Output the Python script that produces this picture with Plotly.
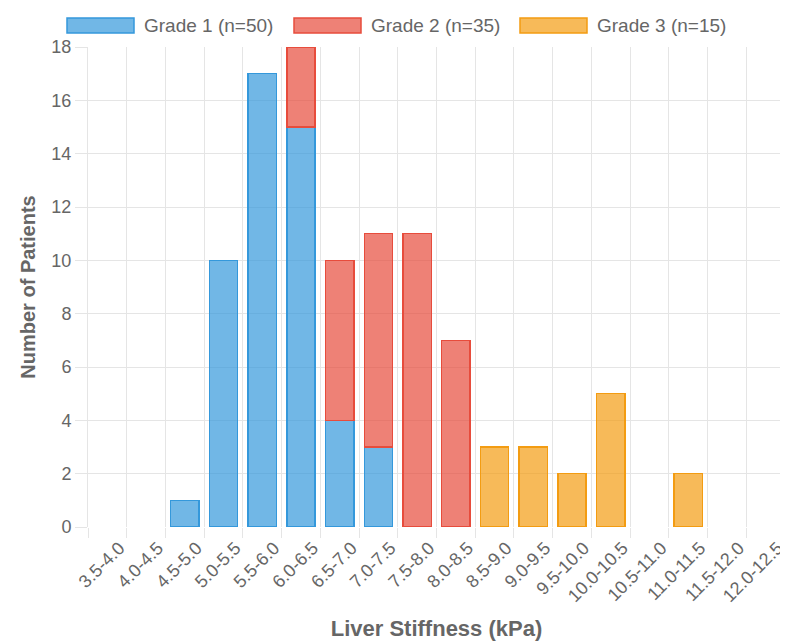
import plotly.graph_objects as go

categories = ["3.5-4.0","4.0-4.5","4.5-5.0","5.0-5.5","5.5-6.0","6.0-6.5","6.5-7.0","7.0-7.5",
              "7.5-8.0","8.0-8.5","8.5-9.0","9.0-9.5","9.5-10.0","10.0-10.5","10.5-11.0",
              "11.0-11.5","11.5-12.0","12.0-12.5"]
grade1 = [0,0,1,10,17,15,4,3,0,0,0,0,0,0,0,0,0,0]
grade2 = [0,0,0,0,0,3,6,8,11,7,0,0,0,0,0,0,0,0]
grade3 = [0,0,0,0,0,0,0,0,0,0,3,3,2,5,0,2,0,0]
names = ["Grade 1 (n=50)", "Grade 2 (n=35)", "Grade 3 (n=15)"]
fills = ["rgba(52,152,219,0.7)", "rgba(231,76,60,0.7)", "rgba(243,156,18,0.7)"]
lines = ["#3498db", "#e74c3c", "#f39c12"]

# page layout (pixels); the page body adds an 8px offset
OFF = 8
PL, PR, PT, PB = 88, 785, 47, 527
W, H = 788 - OFF, 641 - OFF
PW, PH = PR - PL, PB - PT

def px_x(x):
    return (x - PL) / PW

def px_y(y):
    return (PB - y) / PH

xs = list(range(len(categories)))
fig = go.Figure()
for name, vals, fc, lc in zip(names, [grade1, grade2, grade3], fills, lines):
    yv = [v if v != 0 else None for v in vals]
    fig.add_trace(go.Bar(x=xs, y=yv, name=name, showlegend=False,
                         marker=dict(color=fc, line=dict(color=lc, width=1.5))))

# custom legend (wide boxes like the reference)
legend_box_x = [67, 294, 520]
box_w, box_top, box_bot = 67, 18, 33
for name, fc, lc, bx in zip(names, fills, lines, legend_box_x):
    fig.add_shape(type="rect", xref="paper", yref="paper",
                  x0=px_x(bx), x1=px_x(bx + box_w), y0=px_y(box_bot), y1=px_y(box_top),
                  fillcolor=fc, line=dict(color=lc, width=1.5))
    fig.add_annotation(xref="paper", yref="paper", x=px_x(bx + box_w + 8), y=px_y((box_top + box_bot) / 2),
                       text=name, showarrow=False, xanchor="left", yanchor="middle",
                       font=dict(size=19, color="#666"))

fig.update_layout(
    barmode="stack", bargap=0.27,
    width=W, height=H,
    margin=dict(l=PL - OFF, r=W - (PR - OFF), t=PT - OFF, b=H - (PB - OFF)),
    plot_bgcolor="white", paper_bgcolor="white",
    font=dict(family="Helvetica, Arial, Liberation Sans, sans-serif", color="#666", size=16),
    showlegend=False,
    xaxis=dict(
        range=[-0.5, len(categories) - 0.5], automargin=False,
        tickmode="array", tickvals=xs, ticktext=categories, tickangle=-45,
        ticklabelshift=12, ticklabelstandoff=6,
        showgrid=False, ticks="", zeroline=False,
        showline=False,
        minor=dict(tick0=-0.5, dtick=1, showgrid=True, gridcolor="#e5e5e5", gridwidth=1,
                   ticks="outside", ticklen=10, tickcolor="#e5e5e5"),
        title=dict(text="<b>Liver Stiffness (kPa)</b>", font=dict(size=22, color="#666"), standoff=18),
        tickfont=dict(size=18, color="#666"),
    ),
    yaxis=dict(
        range=[0, 18], dtick=2, showgrid=True, gridcolor="#e5e5e5", gridwidth=1, automargin=False,
        ticks="outside", ticklen=12, tickcolor="#e5e5e5", zeroline=False,
        showline=True, linecolor="#e5e5e5",
        title=dict(text="<b>Number of Patients</b>", font=dict(size=20, color="#666"), standoff=10),
        tickfont=dict(size=18, color="#666"),
    ),
)
fig.write_html("out.html")
